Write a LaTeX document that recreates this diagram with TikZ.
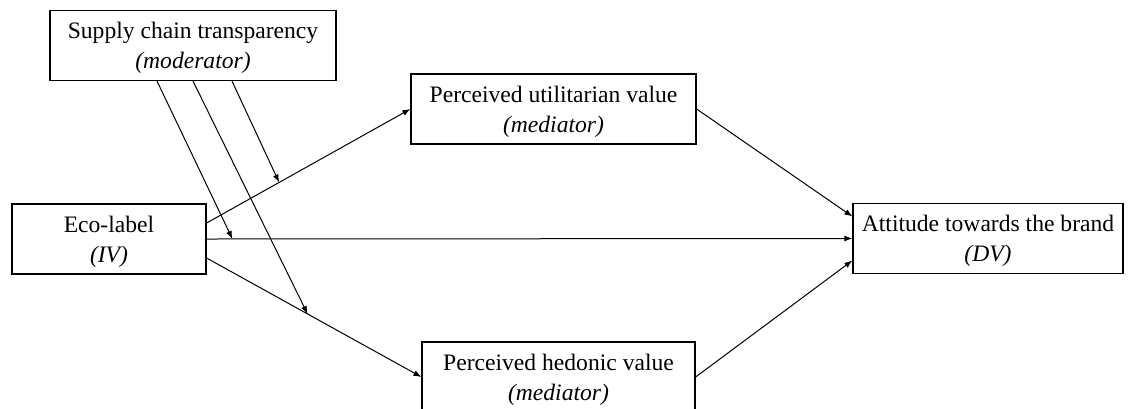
\documentclass[tikz,border=0pt]{standalone}
\usepackage{fontspec}
\setmainfont{Liberation Serif}
\usepackage{tikz}
\usetikzlibrary{calc,arrows.meta}

\begin{document}
\begin{tikzpicture}[x=0.5pt,y=-0.5pt,
	box/.style={draw, line width=0.6pt, align=center, minimum height=35pt, inner sep=2pt,
		text depth=0pt, font=\fontsize{11.8}{15}\selectfont},
	link/.style={line width=0.5pt, -{Latex[length=4pt,width=3pt]}}]
	    \clip (0,0) rectangle (1133,408);
	    \useasboundingbox (0,0) rectangle (1133,408); % page size
	    \node[box, minimum width=143pt] (sct) at (193,45.5) {Supply chain transparency\\\textit{(moderator)}}; % moderator
	    \node[box, minimum width=97pt] (eco) at (109,239) {Eco-label\\\textit{(IV)}};
	    \node[box, minimum width=142.5pt] (puv) at (553.5,109) {Perceived utilitarian value\\\textit{(mediator)}};
	    \node[box, minimum width=136.5pt] (phv) at (558.5,377) {Perceived hedonic value\\\textit{(mediator)}};
	    \node[box, minimum width=135pt] (att) at (988,238.5) {Attitude towards the brand\\\textit{(DV)}};
	    % direct and indirect paths
	    \draw[link] ([yshift=8pt]eco.east) -- (puv.west) coordinate[pos=0.356] (m1);
	    \draw[link] (eco.east) -- (att.west) coordinate[pos=0.04] (m2);
	    \draw[link] ([yshift=-9.5pt]eco.east) -- (phv.west) coordinate[pos=0.47] (m3);
	    \draw[link] (puv.east) -- ([yshift=11pt]att.west);
	    \draw[link] (phv.east) -- ([yshift=-11pt]att.west);
	    % moderation
	    \draw[link] ([xshift=19.5pt]sct.south) -- (m1);
	    \draw[link] ([xshift=-18pt]sct.south) -- (m2);
	    \draw[link] (sct.south) -- (m3);
\end{tikzpicture}
\end{document}
